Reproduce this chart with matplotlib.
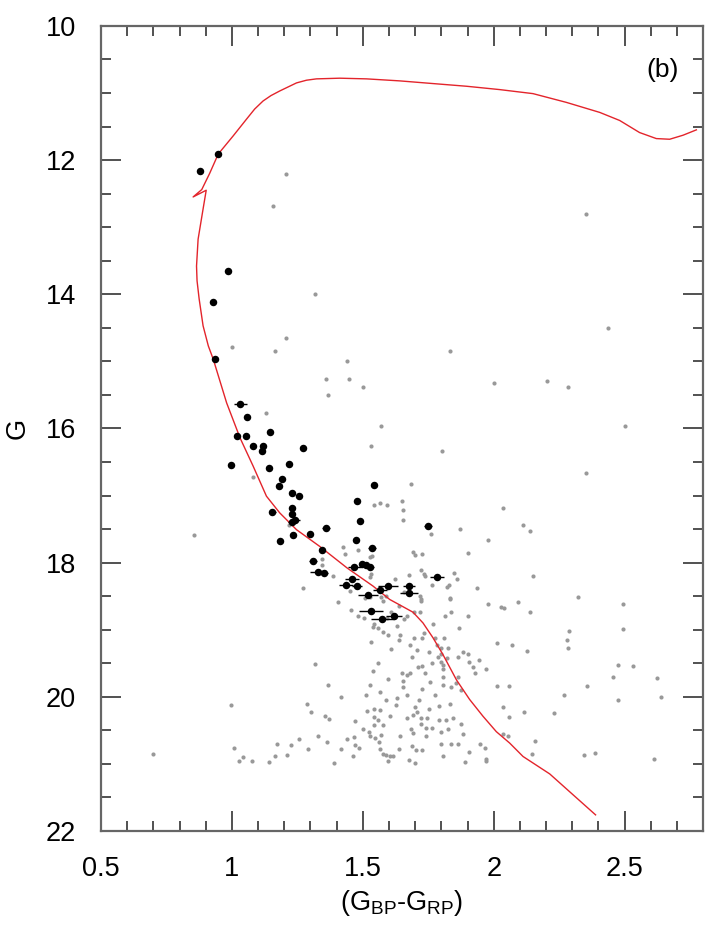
import matplotlib
matplotlib.use('Agg')
import matplotlib.pyplot as plt
from matplotlib.ticker import MultipleLocator, FuncFormatter

plt.rcParams['font.family'] = ['Liberation Sans', 'DejaVu Sans']
plt.rcParams['mathtext.default'] = 'regular'

# isochrone (faint end -> turnoff -> giant branch)
iso_bp_rp = [2.389, 2.300, 2.214, 2.112, 2.061, 2.010, 1.959, 1.908, 1.858, 1.806,
             1.768, 1.730, 1.692, 1.650, 1.603, 1.539, 1.440, 1.336, 1.247, 1.183,
             1.132, 1.081, 1.031, 0.980, 0.929, 0.910, 0.890, 0.875, 0.867, 0.865,
             0.871, 0.890, 0.902, 0.852, 0.885, 0.915, 0.948, 1.005, 1.056, 1.087,
             1.119, 1.149, 1.183, 1.215, 1.247, 1.285, 1.323, 1.412, 1.514, 1.641,
             1.768, 1.896, 2.023, 2.150, 2.277, 2.405, 2.481, 2.557, 2.621, 2.672,
             2.723, 2.774]
iso_g = [21.76, 21.45, 21.15, 20.89, 20.69, 20.52, 20.29, 20.04, 19.75, 19.37,
         19.12, 18.90, 18.74, 18.65, 18.55, 18.35, 18.08, 17.76, 17.51, 17.26,
         17.01, 16.56, 16.14, 15.62, 14.97, 14.77, 14.47, 14.07, 13.80, 13.58,
         13.18, 12.73, 12.45, 12.55, 12.44, 12.20, 11.91, 11.64, 11.39, 11.24,
         11.12, 11.04, 10.97, 10.91, 10.85, 10.81, 10.79, 10.78, 10.79, 10.82,
         10.86, 10.90, 10.95, 11.01, 11.14, 11.29, 11.41, 11.59, 11.68, 11.69,
         11.63, 11.55]

# cluster members (black, with colour errors)
mem_bp_rp = [0.948, 0.879, 0.986, 0.929, 0.936, 1.032, 1.058, 1.020, 1.055, 1.146,
             1.081, 1.119, 1.116, 1.272, 0.997, 1.142, 1.219, 1.192, 1.181, 1.230,
             1.257, 1.543, 1.478, 1.230, 1.230, 1.154, 1.230, 1.242, 1.490, 1.749,
             1.360, 1.234, 1.299, 1.184, 1.474, 1.535, 1.344, 1.310, 1.467, 1.497,
             1.513, 1.528, 1.329, 1.352, 1.459, 1.436, 1.478, 1.566, 1.597, 1.677,
             1.677, 1.520, 1.532, 1.574, 1.619, 1.784]
mem_g = [11.91, 12.17, 13.66, 14.12, 14.96, 15.63, 15.83, 16.12, 16.11, 16.06,
         16.26, 16.26, 16.33, 16.29, 16.54, 16.59, 16.53, 16.75, 16.86, 16.96,
         17.00, 16.84, 17.08, 17.18, 17.27, 17.24, 17.39, 17.36, 17.38, 17.45,
         17.48, 17.59, 17.57, 17.68, 17.66, 17.78, 17.81, 17.97, 18.06, 18.02,
         18.03, 18.07, 18.14, 18.15, 18.24, 18.33, 18.35, 18.41, 18.35, 18.35,
         18.45, 18.48, 18.72, 18.84, 18.80, 18.21]
mem_err = [0.005, 0.005, 0.005, 0.005, 0.006, 0.025, 0.007, 0.007, 0.007, 0.007,
           0.008, 0.008, 0.008, 0.008, 0.008, 0.008, 0.008, 0.009, 0.009, 0.009,
           0.009, 0.010, 0.010, 0.010, 0.010, 0.013, 0.015, 0.020, 0.010, 0.015,
           0.016, 0.011, 0.012, 0.011, 0.012, 0.015, 0.012, 0.015, 0.025, 0.012,
           0.012, 0.016, 0.030, 0.015, 0.027, 0.027, 0.020, 0.027, 0.038, 0.023,
           0.034, 0.038, 0.046, 0.044, 0.030, 0.028]

# field stars (grey)
field_bp_rp = [1.207, 1.158, 1.318, 1.207, 1.001, 1.165, 1.440, 1.360,
               1.448, 1.501, 1.368, 1.131, 1.570, 1.532, 2.352, 2.436,
               1.833, 2.001, 2.203, 2.284, 2.501, 1.803, 0.856, 1.081,
               1.219, 2.352, 1.684, 1.543, 1.566, 1.593, 1.650, 1.654,
               1.654, 2.036, 1.761, 1.871, 2.112, 2.139, 1.978, 1.425,
               1.482, 1.433, 1.528, 1.537, 1.692, 1.700, 1.726, 1.902,
               1.345, 1.345, 1.723, 1.734, 1.738, 1.849, 1.860, 2.150,
               1.532, 1.529, 1.387, 1.623, 1.677, 1.272, 1.451, 1.765,
               1.822, 1.829, 1.936, 1.508, 1.527, 1.571, 1.589, 1.658,
               1.720, 1.723, 1.833, 1.578, 1.406, 1.454, 1.480, 1.505,
               1.543, 1.539, 1.558, 1.577, 1.593, 1.606, 1.629, 1.656,
               1.667, 1.637, 1.696, 1.718, 1.724, 1.832, 1.836, 1.813,
               1.903, 1.980, 2.027, 2.039, 2.093, 2.140, 1.768, 1.868,
               1.595, 1.642, 1.733, 1.533, 1.640, 1.695, 1.728, 1.774,
               1.810, 1.681, 1.782, 1.799, 1.826, 2.014, 2.070, 2.127,
               1.608, 1.706, 1.753, 1.800, 1.883, 1.902, 1.864, 1.688,
               1.787, 1.822, 1.944, 1.319, 1.558, 1.763, 1.798, 1.807,
               1.906, 1.711, 1.728, 1.921, 1.971, 1.539, 1.805, 1.682,
               1.739, 1.929, 1.648, 1.667, 1.597, 1.807, 1.862, 1.652,
               1.757, 1.856, 1.368, 1.529, 1.807, 1.837, 2.013, 2.058,
               1.654, 1.726, 1.875, 1.566, 1.775, 1.416, 1.514, 1.669,
               1.630, 1.589, 1.715, 1.626, 1.833, 1.288, 1.791, 2.037,
               2.116, 1.701, 1.753, 1.515, 1.541, 1.565, 1.303, 1.707,
               1.692, 1.604, 1.356, 1.372, 1.541, 1.669, 1.723, 1.746,
               1.790, 1.817, 1.846, 2.058, 1.471, 1.558, 1.543, 1.578,
               1.723, 1.743, 1.766, 1.824, 1.798, 1.875, 1.684, 1.501,
               1.522, 1.529, 1.547, 1.568, 1.643, 1.691, 1.743, 1.881,
               2.036, 2.055, 1.330, 1.438, 1.465, 1.562, 1.365, 1.258,
               2.159, 1.174, 1.226, 1.472, 1.484, 1.799, 1.837, 1.864,
               1.947, 1.965, 1.688, 1.705, 1.726, 1.289, 1.417, 1.564,
               1.640, 1.579, 1.590, 1.603, 1.616, 1.906, 1.165, 1.211,
               1.463, 1.807, 2.146, 1.143, 1.391, 1.595, 1.677, 1.701,
               1.891, 1.969, 1.972, 0.997, 0.700, 1.009, 1.028, 1.043,
               1.077, 2.322, 2.494, 2.287, 2.494, 2.280, 2.284, 2.475,
               2.532, 2.455, 2.623, 2.356, 2.268, 2.475, 2.639, 2.230,
               2.345, 2.387, 2.612]
field_g = [12.21, 12.69, 13.99, 14.65, 14.78, 14.84, 14.99, 15.27,
           15.27, 15.38, 15.50, 15.77, 15.96, 16.26, 12.81, 14.51,
           14.84, 15.33, 15.30, 15.39, 15.97, 16.33, 17.59, 16.72,
           17.44, 16.66, 16.83, 17.14, 17.11, 17.14, 17.08, 17.21,
           17.36, 17.18, 17.57, 17.50, 17.44, 17.53, 17.66, 17.77,
           17.81, 17.87, 17.92, 17.90, 17.84, 17.89, 17.87, 17.86,
           17.94, 18.03, 18.11, 18.17, 18.20, 18.15, 18.24, 18.20,
           18.17, 18.22, 18.20, 18.24, 18.18, 18.38, 18.43, 18.34,
           18.36, 18.34, 18.38, 18.53, 18.51, 18.51, 18.50, 18.44,
           18.50, 18.54, 18.53, 18.57, 18.59, 18.71, 18.80, 18.83,
           18.92, 18.96, 18.98, 19.03, 18.82, 18.74, 18.94, 18.84,
           18.79, 18.64, 18.73, 18.73, 18.57, 18.55, 18.74, 18.79,
           18.79, 18.62, 18.66, 18.68, 18.59, 18.74, 18.91, 18.97,
           19.08, 19.08, 19.05, 19.18, 19.15, 19.13, 19.13, 19.13,
           19.13, 19.23, 19.23, 19.28, 19.28, 19.20, 19.23, 19.32,
           19.29, 19.31, 19.34, 19.36, 19.33, 19.36, 19.40, 19.41,
           19.41, 19.42, 19.45, 19.51, 19.50, 19.50, 19.48, 19.53,
           19.48, 19.55, 19.54, 19.56, 19.59, 19.61, 19.58, 19.64,
           19.65, 19.64, 19.64, 19.68, 19.73, 19.70, 19.71, 19.76,
           19.78, 19.80, 19.82, 19.82, 19.82, 19.85, 19.84, 19.84,
           19.86, 19.89, 19.90, 19.93, 19.98, 20.00, 19.97, 19.98,
           20.02, 20.05, 20.05, 20.12, 20.11, 20.11, 20.14, 20.15,
           20.23, 20.15, 20.18, 20.21, 20.18, 20.20, 20.23, 20.23,
           20.27, 20.29, 20.29, 20.33, 20.30, 20.32, 20.32, 20.32,
           20.35, 20.35, 20.31, 20.30, 20.36, 20.35, 20.42, 20.42,
           20.41, 20.46, 20.46, 20.48, 20.53, 20.41, 20.48, 20.48,
           20.53, 20.59, 20.62, 20.57, 20.59, 20.54, 20.59, 20.55,
           20.56, 20.59, 20.59, 20.63, 20.60, 20.68, 20.68, 20.63,
           20.66, 20.71, 20.72, 20.72, 20.77, 20.70, 20.70, 20.70,
           20.71, 20.77, 20.74, 20.80, 20.80, 20.78, 20.78, 20.78,
           20.78, 20.85, 20.87, 20.89, 20.89, 20.83, 20.89, 20.87,
           20.89, 20.89, 20.86, 20.97, 20.99, 20.96, 20.94, 20.99,
           20.97, 20.96, 20.93, 20.12, 20.86, 20.77, 20.96, 20.90,
           20.96, 18.51, 18.62, 19.02, 18.99, 19.15, 19.27, 19.53,
           19.54, 19.71, 19.72, 19.84, 19.97, 20.05, 20.00, 20.24,
           20.87, 20.84, 20.93]


def plot_cmd(output_file):
    fig = plt.figure(figsize=(7.06, 9.27), dpi=100)
    ax = fig.add_axes([0.143, 0.1036, 0.853, 0.8685])

    # field stars
    ax.plot(field_bp_rp, field_g, 'o', color='#999999', ms=3.0, mew=0, zorder=1)

    # isochrone
    ax.plot(iso_bp_rp, iso_g, '-', color='#e3242b', lw=1.0, zorder=2)

    # members
    ax.errorbar(mem_bp_rp, mem_g, xerr=mem_err, fmt='o', color='black',
                ms=5.4, mew=0, elinewidth=1.0, capsize=1.6, capthick=1.0, zorder=3)

    ax.set_xlim(0.5, 2.8)
    ax.set_ylim(22, 10)

    ax.xaxis.set_major_locator(MultipleLocator(0.5))
    ax.xaxis.set_minor_locator(MultipleLocator(0.1))
    ax.yaxis.set_major_locator(MultipleLocator(2))
    ax.yaxis.set_minor_locator(MultipleLocator(0.5))
    ax.xaxis.set_major_formatter(FuncFormatter(lambda v, p: f'{v:g}'))
    ax.yaxis.set_major_formatter(FuncFormatter(lambda v, p: f'{v:g}'))

    ax.tick_params(which='both', direction='in', top=True, right=True,
                   color='#222222', width=1.1)
    ax.tick_params(which='major', length=14.5, labelsize=19.5, pad=18)
    ax.tick_params(which='minor', length=7.2)
    for sp in ax.spines.values():
        sp.set_color('#666666')
        sp.set_linewidth(1.6)

    ax.set_xlabel('(G$_{BP}$-G$_{RP}$)', fontsize=19.5, labelpad=4)
    ax.set_ylabel('G', fontsize=19.5, labelpad=11)

    ax.text(0.932, 0.945, '(b)', transform=ax.transAxes, fontsize=19,
            ha='center', va='center')

    fig.savefig(output_file, dpi=100)


if __name__ == '__main__':
    plot_cmd('out.png')
